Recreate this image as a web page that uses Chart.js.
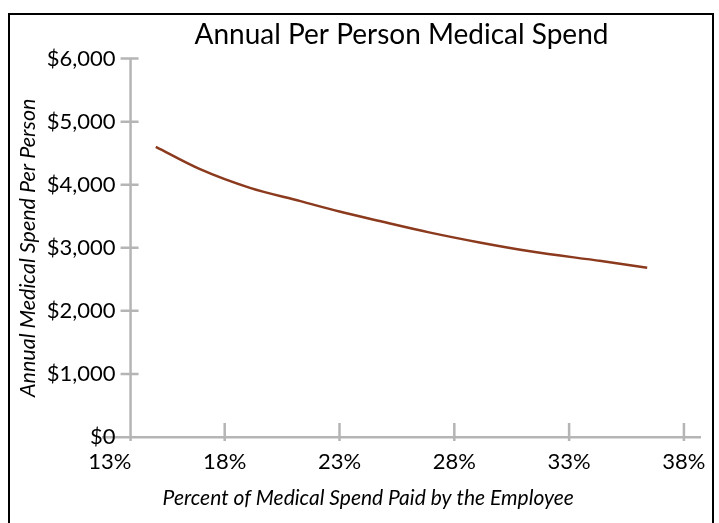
<!DOCTYPE html>
<html lang="en">

<head>
    <meta charset="UTF-8">
    <title>Annual Per Person Medical Spend</title>
    <script src="https://cdn.jsdelivr.net/npm/chart.js"></script>
    <style>
        html,
        body {
            margin: 0;
            padding: 0;
            background: #fff;
            overflow: hidden;
        }

        #frame {
            position: absolute;
            left: 8px;
            top: 13px;
            width: 702px;
            height: 600px;
            border: 2px solid #000;
        }

        #chart-container {
            position: absolute;
            left: 0;
            top: 0;
            width: 719px;
            height: 523px;
        }
    </style>
</head>

<body>
    <div id="frame"></div>
    <div id="chart-container">
        <canvas id="spendChart"></canvas>
    </div>

    <script>
        // data
        const employeeShare = [15.0, 16.9, 19.1, 21.3, 23.0, 24.8, 26.9, 29.1, 31.3, 34.4, 36.4];
        const spendPerPerson = [4600, 4250, 3950, 3740, 3575, 3420, 3245, 3085, 2945, 2790, 2685];

        const xTickValues = [13, 18, 23, 28, 33, 38];
        const yTickValues = [0, 1000, 2000, 3000, 4000, 5000, 6000];
        const yAxisAt = 13.9;       // where the vertical axis crosses the x scale
        const yLabelsAt = 13.25;    // right edge of the $ labels, a little left of the axis
        const xTitleCenter = 24.25; // the x title sits a bit left of the middle

        const xTitle = 'Percent of Medical Spend Paid by the Employee';
        const FONT = 'Lato, "Open Sans", sans-serif';
        const AXIS_GREY = '#b5b5b5';

        // vertical axis line, tick marks and the x title, all placed through the scales
        const axisMarks = {
            id: 'axisMarks',
            beforeDatasetsDraw(chart) {
                const { ctx, scales: { x, y } } = chart;
                const ax = x.getPixelForValue(yAxisAt);
                const bottom = y.getPixelForValue(0);
                ctx.save();
                ctx.strokeStyle = AXIS_GREY;
                ctx.lineWidth = 2.5;
                ctx.beginPath();
                ctx.moveTo(ax, y.getPixelForValue(6000));
                ctx.lineTo(ax, bottom + 4);
                yTickValues.forEach(v => {
                    if (v === 0) return;
                    const py = y.getPixelForValue(v);
                    ctx.moveTo(ax - 10, py);
                    ctx.lineTo(ax + 8, py);
                });
                xTickValues.forEach(v => {
                    if (v === 13) return;
                    const px = x.getPixelForValue(v);
                    ctx.moveTo(px, bottom - 14);
                    ctx.lineTo(px, bottom + 4);
                });
                ctx.stroke();
                ctx.restore();
            },
            afterDraw(chart) {
                const { ctx, scales: { x } } = chart;
                ctx.save();
                ctx.fillStyle = '#000';
                ctx.font = 'italic 21px ' + FONT;
                ctx.textAlign = 'center';
                ctx.textBaseline = 'alphabetic';
                ctx.fillText(xTitle, x.getPixelForValue(xTitleCenter), x.bottom - 18);
                ctx.restore();
            }
        };

        const ctx = document.getElementById('spendChart').getContext('2d');
        new Chart(ctx, {
            type: 'line',
            data: {
                datasets: [{
                    data: employeeShare.map((p, i) => ({ x: p, y: spendPerPerson[i] })),
                    yAxisID: 'y',
                    borderColor: '#8b3a1e',
                    borderWidth: 2.5,
                    pointRadius: 0,
                    cubicInterpolationMode: 'monotone',
                    fill: false
                }]
            },
            options: {
                responsive: true,
                maintainAspectRatio: false,
                animation: false,
                layout: {
                    padding: { top: 18, left: 14, right: 19, bottom: 0 }
                },
                plugins: {
                    legend: { display: false },
                    tooltip: { enabled: false },
                    title: {
                        display: true,
                        fullSize: false,
                        text: 'Annual Per Person Medical Spend',
                        color: '#000',
                        font: { family: FONT, size: 28, weight: 'normal' },
                        padding: { top: 0, bottom: 7 }
                    }
                },
                scales: {
                    x: {
                        type: 'linear',
                        min: 12.7,
                        max: 38.7,
                        afterBuildTicks: axis => {
                            axis.ticks = xTickValues.map(v => ({ value: v }));
                        },
                        afterFit: axis => { axis.height = 86; },
                        grid: { display: false, drawTicks: false },
                        border: { display: true, color: AXIS_GREY, width: 2.5 },
                        ticks: {
                            color: '#000',
                            padding: 12,
                            maxRotation: 0,
                            font: { family: FONT, size: 22 },
                            callback: v => v + '%'
                        }
                    },
                    y: {
                        position: { x: yLabelsAt },
                        min: 0,
                        max: 6000,
                        afterBuildTicks: axis => {
                            axis.ticks = yTickValues.map(v => ({ value: v }));
                        },
                        grid: { display: false, drawTicks: false },
                        border: { display: false },
                        ticks: {
                            color: '#000',
                            padding: 0,
                            font: { family: FONT, size: 22 },
                            callback: v => '$' + v.toLocaleString('en-US')
                        }
                    },
                    // holds only the y title, keeps the plot's left edge in place
                    yTitle: {
                        axis: 'y',
                        position: 'left',
                        min: 0,
                        max: 6000,
                        afterFit: axis => { axis.width = 89; },
                        grid: { display: false, drawTicks: false },
                        border: { display: false },
                        ticks: { display: false },
                        title: {
                            display: true,
                            text: 'Annual Medical Spend Per Person',
                            color: '#000',
                            font: { family: FONT, size: 21.5, style: 'italic' },
                            padding: { top: 1, bottom: 0 }
                        }
                    }
                }
            },
            plugins: [axisMarks]
        });
    </script>
</body>

</html>
